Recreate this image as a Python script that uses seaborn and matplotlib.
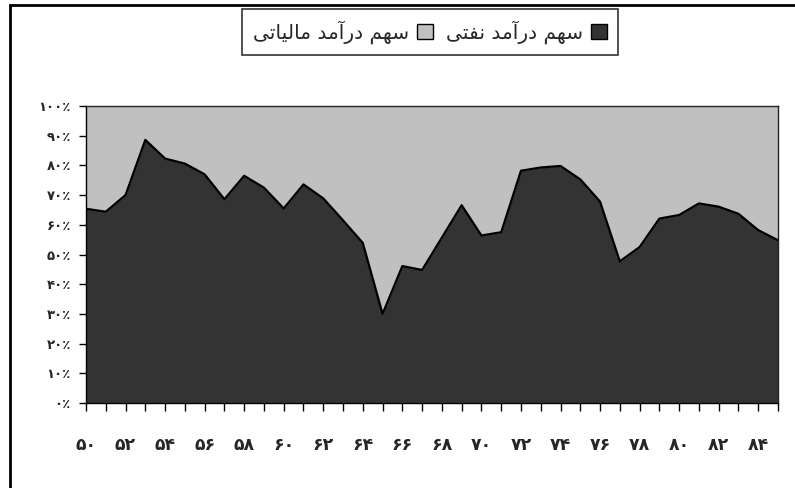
import numpy as np
import pandas as pd
import matplotlib
matplotlib.use("Agg")
import matplotlib.pyplot as plt
import seaborn as sns
from matplotlib.patches import Rectangle, Patch

# years 1350-1385 (shown as 50..85)
years = list(range(50, 86))
# oil revenue share (%) of government revenue
oil_share = [65.4, 64.4, 70.0, 88.6, 82.3, 80.6, 77.0, 68.6, 76.5, 72.5,
             65.5, 73.6, 68.9, 61.5, 53.9, 30.0, 46.1, 44.8, 55.7, 66.6,
             56.4, 57.5, 78.2, 79.3, 79.8, 75.3, 67.8, 47.7, 52.5, 62.1,
             63.3, 67.2, 66.1, 63.7, 58.2, 54.8]
tax_share = [100 - v for v in oil_share]

label_oil = "سهم درآمد نفتی"
label_tax = "سهم درآمد مالیاتی"
ytick_vals = list(range(0, 101, 10))

FA_DIGITS = "۰۱۲۳۴۵۶۷۸۹"


def fa_num(n):
    return "".join(FA_DIGITS[int(c)] for c in str(n))


# --- tiny persian shaper (matplotlib has no arabic shaping) ---
# char -> (isolated, final, initial, medial); None where letter can't join forward
FORMS = {
    "س": ("\uFEB1", "\uFEB2", "\uFEB3", "\uFEB4"),
    "ه": ("\uFEE9", "\uFEEA", "\uFEEB", "\uFEEC"),
    "م": ("\uFEE1", "\uFEE2", "\uFEE3", "\uFEE4"),
    "ن": ("\uFEE5", "\uFEE6", "\uFEE7", "\uFEE8"),
    "ف": ("\uFED1", "\uFED2", "\uFED3", "\uFED4"),
    "ت": ("\uFE95", "\uFE96", "\uFE97", "\uFE98"),
    "ی": ("\uFBFC", "\uFBFD", "\uFBFE", "\uFBFF"),
    "ل": ("\uFEDD", "\uFEDE", "\uFEDF", "\uFEE0"),
    "د": ("\uFEA9", "\uFEAA", None, None),
    "ر": ("\uFEAD", "\uFEAE", None, None),
    "ا": ("\uFE8D", "\uFE8E", None, None),
    "آ": ("\uFE81", "\uFE82", None, None),
}


def shape(text):
    out = []
    for i, ch in enumerate(text):
        if ch not in FORMS:
            out.append(ch)
            continue
        prev = text[i - 1] if i > 0 else ""
        nxt = text[i + 1] if i + 1 < len(text) else ""
        join_prev = prev in FORMS and FORMS[prev][2] is not None
        join_next = FORMS[ch][2] is not None and nxt in FORMS
        iso, fin, ini, med = FORMS[ch]
        if join_prev and join_next:
            out.append(med)
        elif join_prev:
            out.append(fin)
        elif join_next:
            out.append(ini)
        else:
            out.append(iso)
    return "".join(out)[::-1]


sns.set_theme(style="white")
plt.rcParams["font.family"] = ["DejaVu Sans"]

fig = plt.figure(figsize=(7.95, 4.88), dpi=100)
W, H = 795, 488
ax = fig.add_axes([86 / W, 1 - 403 / H, (778 - 86) / W, (403 - 106) / H])

dark = "#333333"
light = "#c0c0c0"

ax.stackplot(years, oil_share, tax_share, colors=[dark, light], linewidth=0)
sns.lineplot(x=years, y=oil_share, color="black", linewidth=1.6, ax=ax)

ax.set_xlim(years[0], years[-1])
ax.set_ylim(0, 100)
ax.set_xticks(years)
ax.set_xticklabels([fa_num(y) if y % 2 == 0 else "" for y in years],
                   fontsize=12.5, fontweight="bold")
ax.set_yticks(ytick_vals)
ax.set_yticklabels([fa_num(v) + "٪" for v in ytick_vals],
                   fontsize=9.5, fontweight="bold")
ax.tick_params(axis="x", direction="out", length=6, width=1, color="black",
               pad=18, bottom=True)
ax.tick_params(axis="y", direction="out", length=5, width=1, color="black",
               pad=6, left=True)
for side, sp in ax.spines.items():
    sp.set_visible(True)
    sp.set_color("#222222")
    sp.set_linewidth(1.0)
ax.spines["left"].set_color("black")
ax.spines["bottom"].set_color("black")
ax.set_xlabel("")
ax.set_ylabel("")

# outer chart frame (runs off the right and bottom edges)
fig.patches.append(Rectangle((10 / W, -0.1), 1.2, 1 - 5 / H + 0.1,
                             transform=fig.transFigure, fill=False,
                             edgecolor="black", linewidth=2))

handles = [Patch(facecolor=light, edgecolor="black", linewidth=1),
           Patch(facecolor=dark, edgecolor="black", linewidth=1)]
leg = fig.legend(handles, [shape(label_tax), shape(label_oil)],
                 loc="center", bbox_to_anchor=(430 / W, 1 - 32 / H),
                 ncol=2, markerfirst=False, frameon=True, fancybox=False,
                 prop={"size": 14.5}, handlelength=0.8, handleheight=0.8,
                 handletextpad=0.4, columnspacing=0.6, borderpad=0.55)
leg.get_frame().set_edgecolor("black")
leg.get_frame().set_linewidth(1.2)

fig.savefig("out.png", dpi=100)
